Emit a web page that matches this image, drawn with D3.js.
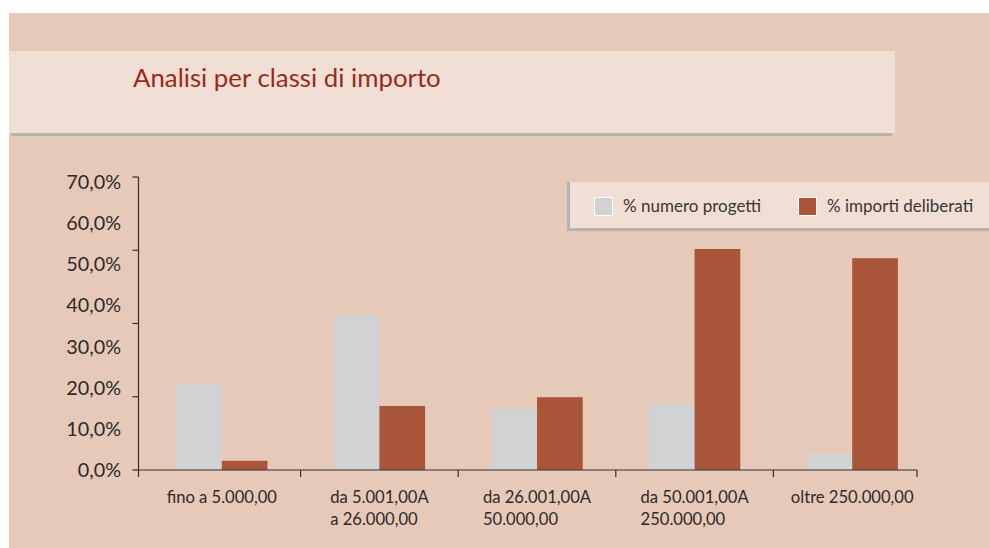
<!DOCTYPE html>
<html>
<head>
<meta charset="utf-8">
<script src="https://cdn.jsdelivr.net/npm/d3@7"></script>
<style>
  body { margin: 0; background: #fff; }
  svg { display: block; font-family: Lato, "Noto Sans", sans-serif; }
</style>
</head>
<body>
<div id="chart"></div>
<script>
// classi di importo (each label split on two lines where the original wraps)
const categorie = [
  ["fino a 5.000,00"],
  ["da 5.001,00A", "a 26.000,00"],
  ["da 26.001,00A", "50.000,00"],
  ["da 50.001,00A", "250.000,00"],
  ["oltre 250.000,00"]
];
const serie = ["% numero progetti", "% importi deliberati"];
const numeroProgetti = [20.5, 37.0, 14.6, 15.8, 3.9];
const importiDeliberati = [2.2, 15.3, 17.4, 52.8, 50.6];
const etichetteY = [0, 10, 20, 30, 40, 50, 60, 70];
const tacche = [0, 17.5, 35, 52.5, 70];

const W = 989, H = 548;
const colori = ["#d1d2d4", "#a9553a"];

const svg = d3.select("#chart").append("svg")
  .attr("width", W)
  .attr("height", H);

// page background
svg.append("rect").attr("width", W).attr("height", H).attr("fill", "#fff");
svg.append("rect").attr("x", 9).attr("y", 13).attr("width", W - 9).attr("height", H - 13).attr("fill", "#e6c9b9");

// title box
svg.append("rect").attr("x", 11).attr("y", 132).attr("width", 881).attr("height", 4).attr("fill", "#b4b3b3");
svg.append("rect").attr("x", 9).attr("y", 51).attr("width", 886).attr("height", 82).attr("fill", "#f1dfd6");
svg.append("text")
  .attr("x", 133).attr("y", 87)
  .attr("font-size", 25.8)
  .attr("fill", "#9a2a16")
  .text("Analisi per classi di importo");

const data = categorie.map((c, i) => ({
  nome: c.join(" "),
  righe: c,
  valori: [numeroProgetti[i], importiDeliberati[i]]
}));

// scales
const x0 = d3.scaleBand()
  .domain(data.map(d => d.nome))
  .range([143, 931])
  .paddingInner(0.42)
  .paddingOuter(0.21);
const x1 = d3.scaleBand()
  .domain(serie)
  .range([0, x0.bandwidth()]);
const y = d3.scaleLinear().domain([0, 70]).range([470, 177]);
// the tick labels in the original sit on their own, slightly tighter grid
const yLab = d3.scaleLinear().domain([0, 70]).range([470, 182]);

// bars
const gruppi = svg.append("g").selectAll("g")
  .data(data)
  .join("g")
  .attr("transform", d => `translate(${x0(d.nome)},0)`);

gruppi.selectAll("rect")
  .data(d => d.valori.map((v, k) => ({ serie: serie[k], v: v, k: k })))
  .join("rect")
  .attr("x", d => x1(d.serie))
  .attr("y", d => y(d.v))
  .attr("width", x1.bandwidth())
  .attr("height", d => y(0) - y(d.v))
  .attr("fill", d => colori[d.k]);

// y axis
const axisX = 138.5;
const yAxis = svg.append("g").attr("stroke", "#333").attr("stroke-width", 1.2);
yAxis.append("line")
  .attr("x1", axisX).attr("x2", axisX)
  .attr("y1", y(70)).attr("y2", y(0));
yAxis.selectAll("line.t")
  .data(tacche)
  .join("line")
  .attr("class", "t")
  .attr("x1", axisX - 6).attr("x2", axisX)
  .attr("y1", d => y(d)).attr("y2", d => y(d));

svg.append("g").selectAll("text")
  .data(etichetteY)
  .join("text")
  .attr("x", 121)
  .attr("y", d => yLab(d))
  .attr("dy", "0.35em")
  .attr("text-anchor", "end")
  .attr("font-size", 19.8)
  .attr("fill", "#2e2a28")
  .text(d => d3.format(".1f")(d).replace(".", ",") + "%");

// x axis
const xEnd = 917;
const xAxis = svg.append("g").attr("stroke", "#333").attr("stroke-width", 1.2);
xAxis.append("line")
  .attr("x1", axisX).attr("x2", xEnd)
  .attr("y1", y(0)).attr("y2", y(0));
const confini = [axisX].concat(data.slice(1).map(d => x0(d.nome) - x0.step() * x0.paddingInner() / 2), [xEnd]);
xAxis.selectAll("line.t")
  .data(confini)
  .join("line")
  .attr("class", "t")
  .attr("x1", d => d).attr("x2", d => d)
  .attr("y1", y(0)).attr("y2", y(0) + 7);

const etichette = svg.append("g").selectAll("text")
  .data(data)
  .join("text")
  .attr("font-size", 16.6)
  .attr("fill", "#2e2a28");
etichette.selectAll("tspan")
  .data(d => d.righe)
  .join("tspan")
  .attr("dy", (d, i) => i === 0 ? 0 : 22)
  .text(d => d);
etichette.each(function(d) {
  const t = d3.select(this);
  const w = d3.max(t.selectAll("tspan").nodes(), n => n.getComputedTextLength());
  const cx = x0(d.nome) + x0.bandwidth() / 2;
  t.attr("y", 503);
  t.selectAll("tspan").attr("x", cx - w / 2);
});

// legend
const leg = svg.append("g");
leg.append("rect").attr("x", 567).attr("y", 182).attr("width", W - 567).attr("height", 49).attr("fill", "#b4b3b3");
leg.append("rect").attr("x", 570).attr("y", 182).attr("width", W - 570).attr("height", 46).attr("fill", "#f1dfd6");
const posLeg = [594, 798];
const voci = leg.selectAll("g.voce")
  .data(serie)
  .join("g")
  .attr("class", "voce")
  .attr("transform", (d, i) => `translate(${posLeg[i]},197)`);
voci.append("rect")
  .attr("x", 0.5).attr("y", 0.5)
  .attr("width", 18).attr("height", 18)
  .attr("fill", (d, i) => colori[i])
  .attr("stroke", "#fff")
  .attr("stroke-width", 1);
voci.append("text")
  .attr("x", 29).attr("y", 14.5)
  .attr("font-size", 17)
  .attr("fill", "#3a3532")
  .text(d => d);
</script>
</body>
</html>
